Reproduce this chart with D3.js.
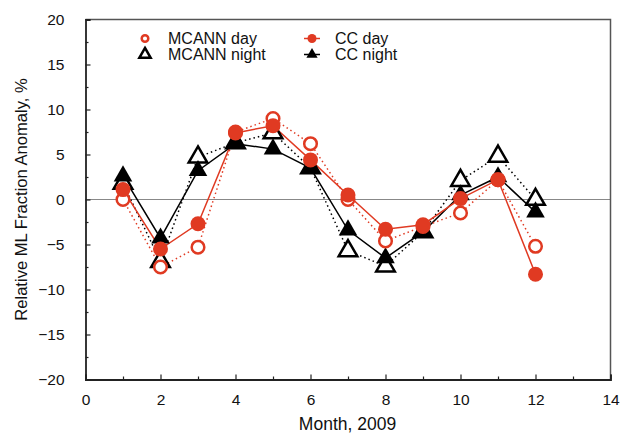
<!DOCTYPE html>
<html>
<head>
<meta charset="utf-8">
<script src="https://cdnjs.cloudflare.com/ajax/libs/d3/7.8.5/d3.min.js"></script>
<style>
  body { margin: 0; background: #fff; }
  text { font-family: "Liberation Sans", Arial, sans-serif; }
</style>
</head>
<body>
<script>
// data
var months = [1, 2, 3, 4, 5, 6, 7, 8, 9, 10, 11, 12];
var mcannDay   = [0.0, -7.5, -5.3, 7.5, 9.0, 6.2, 0.0, -4.6, -3.0, -1.5, 2.2, -5.2];
var ccDay      = [1.1, -5.5, -2.7, 7.4, 8.2, 4.4, 0.5, -3.3, -2.8, 0.1, 2.2, -8.3];
var mcannNight = [1.8, -6.9, 4.7, 6.3, 7.4, 3.5, -5.7, -7.4, -3.6, 2.1, 4.8, 0.0];
var ccNight    = [2.6, -4.3, 3.2, 6.2, 5.6, 3.5, -3.4, -6.5, -3.6, 0.5, 2.5, -1.4];
var xTicks = [0, 2, 4, 6, 8, 10, 12, 14];
var yTicks = [-20, -15, -10, -5, 0, 5, 10, 15, 20];

window.onload = function () {
    var W = 621, H = 435;
    var left = 85.5, right = 610.5, top = 19.5, bottom = 379.5;

    var svg = d3.select("body").append("svg")
        .attr("width", W).attr("height", H);

    var x = d3.scaleLinear().domain([0, 14]).range([left, right]);
    var y = d3.scaleLinear().domain([-20, 20]).range([bottom, top]);

    // zero line
    svg.append("line")
        .attr("x1", left).attr("x2", right)
        .attr("y1", y(0)).attr("y2", y(0))
        .attr("stroke", "#888").attr("stroke-width", 1);

    // frame: top and right
    svg.append("path")
        .attr("d", "M" + left + "," + top + "H" + right + "V" + bottom)
        .attr("fill", "none").attr("stroke", "#555").attr("stroke-width", 1.5);

    // axes with inward ticks
    var xAxis = d3.axisBottom(x).tickValues(xTicks).tickSize(-5).tickPadding(14);
    svg.append("g").attr("transform", "translate(0," + bottom + ")").call(xAxis);
    var xMinor = d3.axisBottom(x).tickValues(d3.range(1, 14, 2)).tickSize(-3).tickFormat("");
    svg.append("g").attr("transform", "translate(0," + bottom + ")").call(xMinor)
        .select(".domain").remove();

    var yAxis = d3.axisLeft(y).tickValues(yTicks).tickSize(-5).tickPadding(21);
    svg.append("g").attr("transform", "translate(" + left + ",0)").call(yAxis);
    var yMinor = d3.axisLeft(y).tickValues(d3.range(-17.5, 20, 5)).tickSize(-3).tickFormat("");
    svg.append("g").attr("transform", "translate(" + left + ",0)").call(yMinor)
        .select(".domain").remove();

    svg.selectAll(".domain").attr("stroke", "#222").attr("stroke-width", 1.8);
    svg.selectAll(".tick line").attr("stroke", "#222").attr("stroke-width", 1.2);
    svg.selectAll(".tick text").attr("font-size", 15.5).attr("fill", "#111")
        .attr("font-family", "'Liberation Sans', Arial, sans-serif");

    // axis titles
    svg.append("text")
        .attr("x", 347.5).attr("y", 430)
        .attr("text-anchor", "middle").attr("font-size", 17.5).attr("fill", "#111")
        .text("Month, 2009");
    svg.append("text")
        .attr("transform", "translate(27," + ((top + bottom) / 2) + ") rotate(-90)")
        .attr("text-anchor", "middle").attr("font-size", 16.6).attr("fill", "#111")
        .text("Relative ML Fraction Anomaly, %");

    var red = "#e03a22";
    var series = [
        { vals: mcannNight, color: "#000", dash: "1.5,3", shape: "tri", filled: false },
        { vals: ccNight, color: "#000", dash: null, shape: "tri", filled: true },
        { vals: mcannDay, color: red, dash: "1.5,3", shape: "circ", filled: false },
        { vals: ccDay, color: red, dash: null, shape: "circ", filled: true }
    ];

    var line = d3.line()
        .x(function (d, i) { return x(months[i]); })
        .y(function (d) { return y(d); });

    // lines first
    series.forEach(function (s) {
        svg.append("path")
            .datum(s.vals)
            .attr("d", line)
            .attr("fill", "none")
            .attr("stroke", s.color)
            .attr("stroke-width", 1.5)
            .attr("stroke-dasharray", s.dash);
    });

    var tri = d3.symbol().type(d3.symbolTriangle).size(150);
    var triSmall = d3.symbol().type(d3.symbolTriangle).size(55);

    function drawMarker(g, s, cx, cy, small) {
        if (s.shape === "circ") {
            var r = small ? 4.5 : 7.5;
            g.append("circle")
                .attr("cx", cx).attr("cy", cy)
                .attr("r", s.filled ? r : r - 1.2)
                .attr("fill", s.filled ? s.color : "#fff")
                .attr("stroke", s.color)
                .attr("stroke-width", s.filled ? 0 : 2.5);
        } else {
            g.append("path")
                .attr("d", small ? triSmall() : tri())
                .attr("transform", "translate(" + cx + "," + cy + ")")
                .attr("fill", s.filled ? s.color : "#fff")
                .attr("stroke", s.color)
                .attr("stroke-width", s.filled ? 0 : 2.5)
                .attr("stroke-linejoin", "miter");
        }
    }

    series.forEach(function (s) {
        var g = svg.append("g");
        s.vals.forEach(function (v, i) {
            drawMarker(g, s, x(months[i]), y(v), false);
        });
    });

    // legend
    var legend = [
        { label: "MCANN day", s: series[2], lx: 145, ly: 38.5 },
        { label: "MCANN night", s: series[0], lx: 145, ly: 54.5 },
        { label: "CC day", s: series[3], lx: 312, ly: 38.5 },
        { label: "CC night", s: series[1], lx: 312, ly: 54.5 }
    ];
    var lg = svg.append("g");
    legend.forEach(function (d) {
        if (!d.s.dash) {
            lg.append("line")
                .attr("x1", d.lx - 8).attr("x2", d.lx + 8)
                .attr("y1", d.ly).attr("y2", d.ly)
                .attr("stroke", d.s.color).attr("stroke-width", 1.5);
        }
        drawMarker(lg, d.s, d.lx, d.ly, true);
        lg.append("text")
            .attr("x", d.lx + 23).attr("y", d.ly + 5.5)
            .attr("font-size", 16).attr("fill", "#111")
            .text(d.label);
    });
};
</script>
</body>
</html>
